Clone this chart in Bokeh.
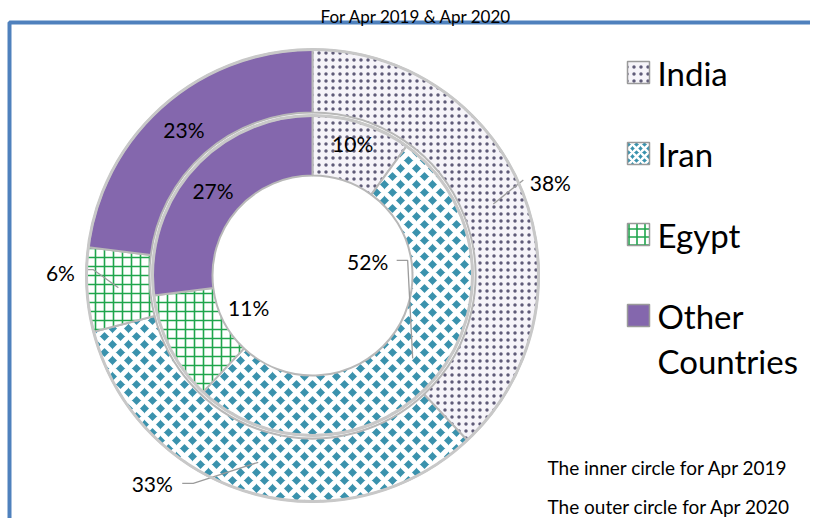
import math
from bokeh.plotting import figure
from bokeh.models import Range1d
from bokeh.embed import file_html
from bokeh.resources import INLINE
from bokeh.core.properties import value

# ---------------- data ----------------
title_text = "For Apr 2019 & Apr 2020"
countries = ["India", "Iran", "Egypt", "Other Countries"]
share_2019 = [10, 52, 11, 27]   # inner circle
share_2020 = [38, 33, 6, 23]    # outer circle
notes = ["The inner circle for Apr 2019", "The outer circle for Apr 2020"]

# ---------------- layout / style ----------------
W, H = 810, 518
FONT = "Lato"
CX, CY = 312, 275                 # picture coords of donut centre
RINGS = {"inner": (100, 160), "outer": (163, 226)}

fills = ["#f6f4f9", "#3a92ad", "#ffffff", "#8467ad"]
hatches = ["dot", "diagonal_cross", "cross", None]
hatch_colors = ["#5f5b78", "#ffffff", "#1fa54c", None]
hatch_scales = [7, 16, 9, 1]
hatch_weights = [1.5, 5, 1.6, 1]

# label offsets (px, picture coords) from ring mid-point, and leader polylines
outer_lbl = [(57, -21), (-106, 21), (-58, -15), (0, 0)]
outer_lead = [[(0, 0), (30, -24)], [(0, 0), (-65, 21), (-76, 21)], [(0, 0), (-25, -18), (-31, -18)], None]
inner_lbl = [(0, -8), (-45, -97), (52, -27), (-2, 1)]
inner_lead = [None, [(0, 0), (-5, -98), (-16, -98)], None, None]


def X(px):
    return px


def Y(py):
    return H - py


p = figure(width=W, height=H, x_range=Range1d(0, W), y_range=Range1d(0, H),
           output_backend="svg", toolbar_location=None, min_border=0,
           x_axis_location=None, y_axis_location=None, outline_line_color=None)
p.grid.visible = False
p.background_fill_color = "#ffffff"
p.border_fill_color = "#ffffff"

# chart-area border
p.line([X(9), X(9), X(W + 5)], [Y(H + 5), Y(22), Y(22)], line_color="#4f81bd", line_width=4)

# title
p.text([X(416)], [Y(16)], text=[title_text], text_align="center", text_baseline="alphabetic",
       text_font=value(FONT), text_font_size="17px", text_color="#000000")


def draw_ring(shares, ring, lbl_offsets, leads):
    r0, r1 = RINGS[ring]
    total = float(sum(shares))
    cum = 0.0
    rm = (r0 + r1) / 2
    for i, s in enumerate(shares):
        a0 = math.pi / 2 - 2 * math.pi * cum / total
        a1 = math.pi / 2 - 2 * math.pi * (cum + s) / total
        kw = dict(fill_color=fills[i], line_color="#b8b8b8", line_width=2)
        if hatches[i]:
            kw.update(hatch_pattern=hatches[i], hatch_color=hatch_colors[i],
                      hatch_scale=hatch_scales[i], hatch_weight=hatch_weights[i])
        p.annular_wedge(x=[X(CX)], y=[Y(CY)], inner_radius=r0, outer_radius=r1,
                        start_angle=a0, end_angle=a1, direction="clock", **kw)
        mid = 2 * math.pi * (cum + s / 2) / total
        mx = CX + rm * math.sin(mid)
        my = CY - rm * math.cos(mid)
        if leads[i]:
            p.line([X(mx + dx) for dx, dy in leads[i]], [Y(my + dy) for dx, dy in leads[i]],
                   line_color="#9c9c9c", line_width=1.3)
        dx, dy = lbl_offsets[i]
        p.text([X(mx + dx)], [Y(my + dy)], text=[f"{s}%"], text_align="center",
               text_baseline="middle", text_font=value(FONT), text_font_size="21px",
               text_color="#000000")
        cum += s


draw_ring(share_2020, "outer", outer_lbl, outer_lead)
draw_ring(share_2019, "inner", inner_lbl, inner_lead)

# ring rims
for r in (RINGS["outer"][1], RINGS["inner"][1]):
    p.circle(x=[X(CX)], y=[Y(CY)], radius=r, fill_color=None, line_color="#c8c8c8", line_width=3)

# legend
leg_x, leg_y0, leg_dy = 638, 72, 81
for i, name in enumerate(countries):
    yy = leg_y0 + i * leg_dy
    kw = dict(fill_color=fills[i], line_color="#9a9a9a", line_width=1.5)
    if hatches[i]:
        kw.update(hatch_pattern=hatches[i], hatch_color=hatch_colors[i],
                  hatch_scale=min(hatch_scales[i], 8), hatch_weight=min(hatch_weights[i], 2.5))
    p.rect(x=[X(leg_x)], y=[Y(yy)], width=22, height=22, **kw)
    words = name.split(" ")
    for j, w in enumerate(words):
        p.text([X(657)], [Y(yy + j * 45)], text=[w], text_align="left", text_baseline="middle",
               text_font=value(FONT), text_font_size="33px", text_color="#000000")

# notes
for k, t in enumerate(notes):
    p.text([X(547)], [Y(467 + k * 39)], text=[t], text_align="left", text_baseline="middle",
           text_font=value(FONT), text_font_size="19px", text_color="#000000")

open("out.html", "w").write(file_html(p, INLINE))
